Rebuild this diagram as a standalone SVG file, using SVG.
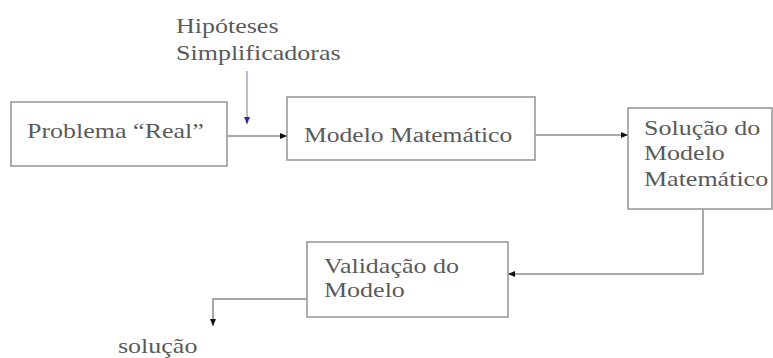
<svg xmlns="http://www.w3.org/2000/svg" width="773" height="358" viewBox="0 0 773 358">
  <style>
    .box { fill: #ffffff; stroke: #9a9a9a; stroke-width: 1.6; }
    .lbl { font-family: "Liberation Serif", "Times New Roman", serif; font-size: 20px; fill: #5a5a5a; }
    .wire { fill: none; stroke: #8c8c8c; stroke-width: 1.5; }
    .wire-blue { fill: none; stroke: #9a9ab4; stroke-width: 1.3; }
  </style>
  <defs>
    <marker id="head" markerUnits="userSpaceOnUse" markerWidth="8" markerHeight="8" refX="7" refY="4" orient="auto">
      <path d="M0,1 L7,4 L0,7 Z" fill="#111"/>
    </marker>
    <marker id="head-blue" markerUnits="userSpaceOnUse" markerWidth="8" markerHeight="8" refX="7" refY="4" orient="auto">
      <path d="M0,1 L7,4 L0,7 Z" fill="#2a2a9a"/>
    </marker>
  </defs>
  <rect width="773" height="358" fill="#ffffff"/>

  <!-- connectors -->
  <g id="connectors">
    <line class="wire-blue" x1="247" y1="71" x2="247" y2="124" marker-end="url(#head-blue)"/>
    <line class="wire" x1="227" y1="136" x2="287" y2="136" marker-end="url(#head)"/>
    <line class="wire" x1="535" y1="135" x2="628" y2="135" marker-end="url(#head)"/>
    <polyline class="wire" points="703,209 703,274 508,274" marker-end="url(#head)"/>
    <polyline class="wire" points="307,299 213,299 213,326" marker-end="url(#head)"/>
  </g>

  <!-- labels use a horizontally widened serif face (x scale 1.3) -->
  <g id="hipoteses">
    <text class="lbl" transform="translate(176,33) scale(1.3,1)">Hipóteses</text>
    <text class="lbl" transform="translate(176,60) scale(1.3,1)">Simplificadoras</text>
  </g>

  <g id="problema">
    <rect class="box" x="11" y="102" width="216" height="64"/>
    <text class="lbl" transform="translate(27,138) scale(1.3,1)">Problema “Real”</text>
  </g>

  <g id="modelo">
    <rect class="box" x="287" y="97" width="248" height="63"/>
    <text class="lbl" transform="translate(304,142) scale(1.28,1)">Modelo Matemático</text>
  </g>

  <g id="solucao-modelo">
    <rect class="box" x="628" y="108" width="144" height="101"/>
    <text class="lbl" transform="translate(644,135) scale(1.3,1)">Solução do</text>
    <text class="lbl" transform="translate(644,160) scale(1.3,1)">Modelo</text>
    <text class="lbl" transform="translate(644,186) scale(1.3,1)">Matemático</text>
  </g>

  <g id="validacao">
    <rect class="box" x="307" y="242" width="201" height="75"/>
    <text class="lbl" transform="translate(324,273) scale(1.3,1)">Validação do</text>
    <text class="lbl" transform="translate(324,297) scale(1.3,1)">Modelo</text>
  </g>

  <g id="solucao">
    <text class="lbl" transform="translate(118,353) scale(1.3,1)">solução</text>
  </g>
</svg>
